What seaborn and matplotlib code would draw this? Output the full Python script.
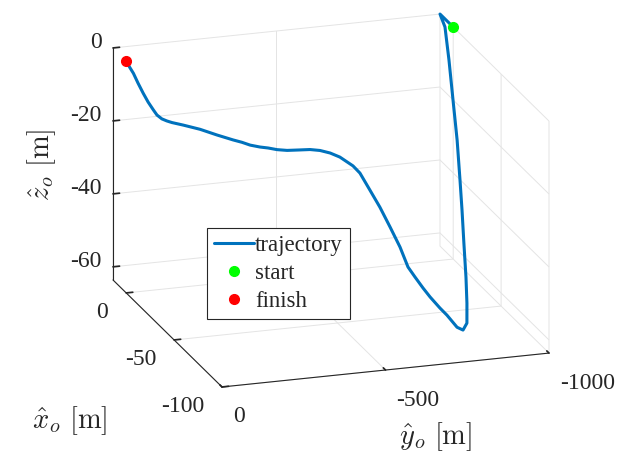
import numpy as np
import matplotlib
matplotlib.use("Agg")
import matplotlib.pyplot as plt
import seaborn as sns
from mpl_toolkits.mplot3d import proj3d

sns.set_theme(style="white")
plt.rcParams["font.family"] = ["Liberation Serif", "DejaVu Serif"]
plt.rcParams["mathtext.fontset"] = "cm"
plt.rcParams["axes.unicode_minus"] = False

# Vehicle trajectory in the o-frame [m], in travel order (start -> finish)
x_o = [0.0, 7.0, 13.8, 8.6, 1.7, -9.0, -19.8, -30.3, -38.2, -47.0, -56.0, -62.8,
       -67.9, -69.3, -71.6, -73.3, -73.8, -73.8, -73.3, -72.7, -71.6, -67.0, -59.0,
       -47.7, -36.3, -23.8, -16.9, -7.3, -3.3, -1.6, -0.4,
       0.0, 0.0, 0.0, 0.0, 0.0, 0.0, 0.0, 0.0, 0.0, 0.0, 0.0, 0.0, 0.0,
       0.0, 0.0, 0.0, 0.0, 0.0, 0.0, 0.0, 0.0, 0.0]
y_o = [-1000, -1000, -1000, -1000, -992, -973, -954, -932, -915, -895, -875, -858,
       -843, -827, -802, -766, -743, -713, -693, -670, -652, -641, -634,
       -636, -639, -645, -644, -632, -614, -588, -561,
       -525, -492, -461, -434, -409, -379, -354, -327, -278, -226, -174, -140, -124,
       -109, -94, -83, -67, -52, -36, -22, -10, 0]
z_o = [0.0, 0.0, 0.0, -2.2, -9.4, -17.4, -25.5, -33.5, -39.5, -46.2, -53.0, -58.2,
       -62.2, -63.6, -62.0, -57.9, -55.6, -52.3, -49.8, -46.7, -44.1, -39.7, -36.2,
       -33.7, -32.0, -30.6, -30.4, -30.35, -30.1, -29.6, -29.4,
       -29.3, -29.1, -28.6, -27.9, -27.4, -26.6, -25.6, -24.7, -22.9, -20.85, -19.2, -18.2, -17.6,
       -16.9, -15.7, -14.2, -11.9, -9.35, -6.4, -3.6, -1.75, 0.0]

x_ticks = [-100, -50, 0]
y_ticks = [-1000, -500, 0]
z_ticks = [-60, -40, -20, 0]

line_color = "#0072BD"
axis_color = "#262626"
grid_color = "#e4e4e4"
tick_fs = 17

W_PX, H_PX = 623, 458
fig = plt.figure(figsize=(W_PX / 100, H_PX / 100), dpi=100)
ax = fig.add_subplot(projection="3d", proj_type="ortho")
ax.computed_zorder = False
ax.view_init(elev=18.6, azim=162.0)
ax.set_box_aspect((1.026, 1.0, 0.712))

ax.plot(x_o, y_o, z_o, color=line_color, lw=2.2, label="trajectory", zorder=3,
        solid_joinstyle="round")
ax.plot([x_o[0]], [y_o[0]], [z_o[0]], "o", color=(0, 1, 0), ms=7, label="start", zorder=4)
ax.plot([x_o[-1]], [y_o[-1]], [z_o[-1]], "o", color=(1, 0, 0), ms=7, label="finish", zorder=4)

xmin, xmax = -100, 13.8
ymin, ymax = -1000, 0
zmin, zmax = -63.6, 0
ax.set_xlim(xmin, xmax)
ax.set_ylim(ymin, ymax)
ax.set_zlim(zmin, zmax)
ax.set_xticks(x_ticks)
ax.set_yticks(y_ticks)
ax.set_zticks(z_ticks)
ax.set_xticklabels([])
ax.set_yticklabels([])
ax.set_zticklabels([])

ax.grid(True)
for axis in (ax.xaxis, ax.yaxis, ax.zaxis):
    axis.set_pane_color((1, 1, 1, 0))
    axis.line.set_color(axis_color)
    axis.line.set_linewidth(0.8)
    axis._axinfo["tick"]["inward_factor"] = 0.0
    axis._axinfo["tick"]["outward_factor"] = 0.25
    axis._axinfo["grid"]["color"] = grid_color
    axis._axinfo["grid"]["linewidth"] = 0.7
ax.zaxis.set_ticks_position("upper")
ax.tick_params(axis="both", colors=axis_color)
ax.tick_params(axis="z", colors=axis_color)

# Fit the projected box onto the figure: corners of the data box -> pixel spots
corners = [((xmax, ymax, zmin), (113, 280)),
           ((xmin, ymin, zmin), (549, 353)),
           ((xmax, ymax, zmax), (113, 48)),
           ((xmin, ymax, zmin), (222, 387)),
           ((xmax, ymin, zmax), (440, 14))]
fig.canvas.draw()
M = ax.get_proj()
bb = ax.get_position().transformed(fig.transFigure)
cx, cy, w = (bb.x0 + bb.x1) / 2, (bb.y0 + bb.y1) / 2, bb.width


def unit_coords(px, py, pz):
    X, Y, _ = proj3d.proj_transform(px, py, pz, M)
    dx, dy = ax.transData.transform((X, Y))
    return (dx - cx) / w, (dy - cy) / w


rows, rhs = [], []
for (px, py, pz), (tx, ty) in corners:
    ux, uy = unit_coords(px, py, pz)
    rows.append([1, 0, ux]); rhs.append(tx)
    rows.append([0, 1, uy]); rhs.append(H_PX - ty)
sol, *_ = np.linalg.lstsq(np.array(rows, float), np.array(rhs, float), rcond=None)
ncx, ncy, nw = sol

# Tick label anchors: (3-D tick point, text, pixel offset right/down, alignment)
tick_specs = ([((t, ymax, zmin), f"{t:g}", -18, 20, "right") for t in x_ticks]
              + [((xmin, t, zmin), f"{t:g}", 11, 30, "left") for t in y_ticks]
              + [((xmax, ymax, t), f"{t:g}", -11, -5, "right") for t in z_ticks])
tick_units = [unit_coords(*p) for p, *_ in tick_specs]

ax.set_position([(ncx - nw / 2) / W_PX, (ncy - nw / 2) / H_PX, nw / W_PX, nw / H_PX])

for (p, text, dx, dy, ha), (ux, uy) in zip(tick_specs, tick_units):
    sx, sy = ncx + nw * ux + dx, ncy + nw * uy - dy
    fig.text(sx / W_PX, sy / H_PX, text, ha=ha, va="center",
             fontsize=tick_fs, color=axis_color)

ax.set_xlabel("")
ax.set_ylabel("")
ax.set_zlabel("")
fig.text(42 / W_PX, 1 - 165 / H_PX, r"$\hat{z}_o\ [\mathrm{m}]$", rotation=90,
         ha="center", va="center", fontsize=20.5, color=axis_color)
fig.text(70 / W_PX, 1 - 421 / H_PX, r"$\hat{x}_o\ [\mathrm{m}]$",
         ha="center", va="center", fontsize=20.5, color=axis_color)
fig.text(436 / W_PX, 1 - 437 / H_PX, r"$\hat{y}_o\ [\mathrm{m}]$",
         ha="center", va="center", fontsize=20.5, color=axis_color)

leg = ax.legend(loc="upper left", bbox_to_anchor=(207 / W_PX, 1 - 228 / H_PX),
                bbox_transform=fig.transFigure, fontsize=16.5, frameon=True,
                fancybox=False, framealpha=1, edgecolor=axis_color,
                borderpad=0.3, labelspacing=0.3, handlelength=1.75,
                handletextpad=0.05, borderaxespad=0)
leg.get_frame().set_linewidth(0.8)

fig.savefig("out.png", dpi=100)
